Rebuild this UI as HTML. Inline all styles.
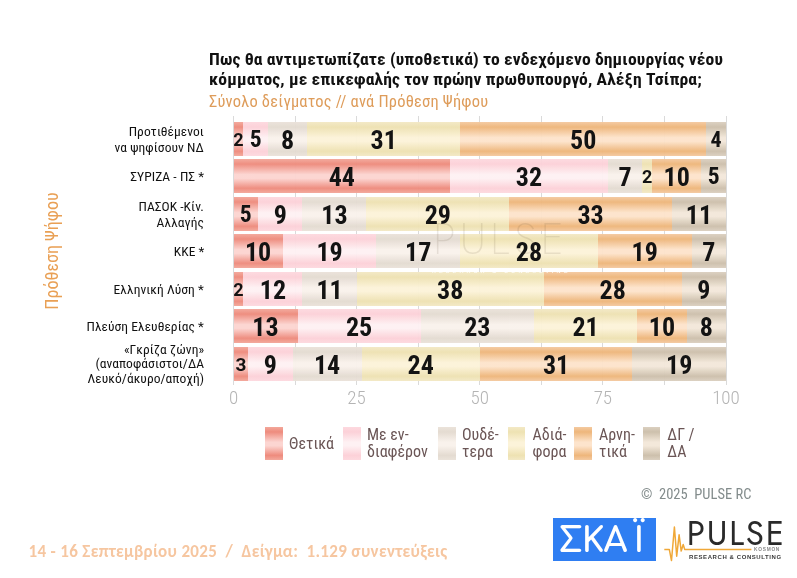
<!DOCTYPE html>
<html lang="el"><head><meta charset="utf-8">
<style>
html,body{margin:0;padding:0;background:#fff;}
body{width:797px;height:578px;position:relative;overflow:hidden;font-family:"Roboto Condensed","Liberation Sans",sans-serif;}
.t1{position:absolute;left:209px;top:50px;font-weight:700;font-size:16.6px;line-height:20px;letter-spacing:0.1px;transform:scaleX(1.06);transform-origin:0 0;color:#111;white-space:nowrap;}
.sub{position:absolute;left:209px;top:92.7px;font-weight:400;font-size:15.6px;letter-spacing:0.2px;color:#de9c5a;transform:scaleX(1.055);transform-origin:0 0;white-space:nowrap;}
.ylab{position:absolute;left:50.6px;top:251px;transform:translate(-50%,-50%) rotate(-90deg);font-size:18px;font-weight:400;letter-spacing:0px;color:#e9a055;white-space:nowrap;}
.grid{position:absolute;top:116px;height:269px;width:1px;background:#dadada;}
.seg{position:absolute;display:flex;align-items:center;justify-content:center;opacity:0.97;}
.seg span{font-weight:700;color:#0c0c0c;line-height:1;position:relative;top:0.8px;}
.rlab{position:absolute;right:593px;text-align:right;font-size:13px;font-weight:400;letter-spacing:0.05px;color:#111;transform:scaleX(1.04);transform-origin:100% 0;white-space:nowrap;}
.tick{position:absolute;top:386px;width:60px;text-align:center;font-size:19px;font-weight:300;color:#b4b4b4;}
.sw{position:absolute;top:427px;width:17.5px;height:32.7px;}
.lt{position:absolute;top:425.5px;font-family:"Roboto Condensed","Liberation Sans",sans-serif;font-size:16px;line-height:17.6px;color:#6a5555;white-space:nowrap;}
.lt.single{top:435px;}
.copy{position:absolute;left:641px;top:485.5px;font-size:14.5px;color:#838c8c;white-space:nowrap;}
.foot{position:absolute;left:28.5px;top:540.5px;font-family:"Carlito","Liberation Sans",sans-serif;font-weight:700;font-size:17px;letter-spacing:0.33px;color:#f6c6a0;white-space:pre;}
.skai{position:absolute;left:553.3px;top:517.8px;width:103.1px;height:43.7px;background:#2f7ef2;}
.skai > span{position:absolute;left:5px;top:2.5px;color:#fff;font-family:"Comfortaa","DejaVu Sans",sans-serif;font-size:34px;line-height:43.7px;letter-spacing:1.6px;font-weight:700;white-space:nowrap;}
.pulse{position:absolute;left:686.8px;top:510px;font-family:"Jost","DejaVu Sans",sans-serif;font-size:33px;font-weight:400;letter-spacing:1.8px;color:#2a2a2a;white-space:nowrap;}
.rc{position:absolute;left:689px;top:554px;font-family:"Liberation Sans",sans-serif;font-size:6px;font-weight:700;letter-spacing:0.58px;color:#3a3a3a;white-space:nowrap;}
.kos{position:absolute;left:754px;top:546.5px;font-family:"Liberation Sans",sans-serif;font-size:4.8px;font-weight:700;letter-spacing:0.75px;color:#8a8a8a;white-space:nowrap;line-height:5px;}
.wm2{position:absolute;left:432px;top:267.5px;font-family:"Liberation Sans",sans-serif;font-size:5.5px;font-weight:700;letter-spacing:3.1px;color:rgba(255,255,255,0.8);white-space:nowrap;}
.wm{position:absolute;left:433px;top:206px;font-family:"Jost","Liberation Sans",sans-serif;font-size:45px;font-weight:200;letter-spacing:4px;color:rgba(90,70,50,0.12);white-space:nowrap;}
</style></head><body>
<div class="t1">Πως θα αντιμετωπίζατε (υποθετικά) το ενδεχόμενο δημιουργίας νέου<br>κόμματος, με επικεφαλής τον πρώην πρωθυπουργό, Αλέξη Τσίπρα;</div>
<div class="sub">Σύνολο δείγματος // ανά Πρόθεση Ψήφου</div>
<div class="ylab">Πρόθεση Ψήφου</div>
<div class="grid" style="left:233.00px"></div>
<div class="grid" style="left:294.56px"></div>
<div class="grid" style="left:356.12px"></div>
<div class="grid" style="left:417.69px"></div>
<div class="grid" style="left:479.25px"></div>
<div class="grid" style="left:540.81px"></div>
<div class="grid" style="left:602.38px"></div>
<div class="grid" style="left:663.94px"></div>
<div class="grid" style="left:725.50px"></div>
<div class="seg" style="left:233.50px;top:121.90px;width:9.85px;height:33.7px;background:linear-gradient(to bottom,#f3a89b 0%,#ee8b7d 15%,#fcd5d1 46%,#fcd5d1 57%,#ee8b7d 86%,#f3a89b 100%)"><span style="font-size:18px;font-family:Roboto,Liberation Sans,sans-serif">2</span></div>
<div class="seg" style="left:243.35px;top:121.90px;width:24.63px;height:33.7px;background:linear-gradient(to bottom,#fdd9df 0%,#fcd1d8 15%,#fef1f3 46%,#fef1f3 57%,#fcd1d8 86%,#fdd9df 100%)"><span style="font-size:23.5px">5</span></div>
<div class="seg" style="left:267.98px;top:121.90px;width:39.40px;height:33.7px;background:linear-gradient(to bottom,#ebe3da 0%,#e4dbd1 15%,#f9f2ec 46%,#f9f2ec 57%,#e4dbd1 86%,#ebe3da 100%)"><span style="font-size:26px">8</span></div>
<div class="seg" style="left:307.38px;top:121.90px;width:152.68px;height:33.7px;background:linear-gradient(to bottom,#f3e9c6 0%,#eee2b2 15%,#fcf3d9 46%,#fcf3d9 57%,#eee2b2 86%,#f3e9c6 100%)"><span style="font-size:26px">31</span></div>
<div class="seg" style="left:460.05px;top:121.90px;width:246.25px;height:33.7px;background:linear-gradient(to bottom,#f4caa1 0%,#eeb67b 15%,#fde4cc 46%,#fde4cc 57%,#eeb67b 86%,#f4caa1 100%)"><span style="font-size:26px">50</span></div>
<div class="seg" style="left:706.30px;top:121.90px;width:19.70px;height:33.7px;background:linear-gradient(to bottom,#dbd0c0 0%,#cdc0ac 15%,#f3e8da 46%,#f3e8da 57%,#cdc0ac 86%,#dbd0c0 100%)"><span style="font-size:22px">4</span></div>
<div class="rlab" style="top:124.05px;line-height:15.7px">Προτιθέμενοι<br>να ψηφίσουν ΝΔ</div>
<div class="seg" style="left:233.50px;top:159.40px;width:216.70px;height:33.7px;background:linear-gradient(to bottom,#f3a89b 0%,#ee8b7d 15%,#fcd5d1 46%,#fcd5d1 57%,#ee8b7d 86%,#f3a89b 100%)"><span style="font-size:26px">44</span></div>
<div class="seg" style="left:450.20px;top:159.40px;width:157.60px;height:33.7px;background:linear-gradient(to bottom,#fdd9df 0%,#fcd1d8 15%,#fef1f3 46%,#fef1f3 57%,#fcd1d8 86%,#fdd9df 100%)"><span style="font-size:26px">32</span></div>
<div class="seg" style="left:607.80px;top:159.40px;width:34.48px;height:33.7px;background:linear-gradient(to bottom,#ebe3da 0%,#e4dbd1 15%,#f9f2ec 46%,#f9f2ec 57%,#e4dbd1 86%,#ebe3da 100%)"><span style="font-size:26px">7</span></div>
<div class="seg" style="left:642.27px;top:159.40px;width:9.85px;height:33.7px;background:linear-gradient(to bottom,#f3e9c6 0%,#eee2b2 15%,#fcf3d9 46%,#fcf3d9 57%,#eee2b2 86%,#f3e9c6 100%)"><span style="font-size:18px;font-family:Roboto,Liberation Sans,sans-serif">2</span></div>
<div class="seg" style="left:652.12px;top:159.40px;width:49.25px;height:33.7px;background:linear-gradient(to bottom,#f4caa1 0%,#eeb67b 15%,#fde4cc 46%,#fde4cc 57%,#eeb67b 86%,#f4caa1 100%)"><span style="font-size:26px">10</span></div>
<div class="seg" style="left:701.38px;top:159.40px;width:24.62px;height:33.7px;background:linear-gradient(to bottom,#dbd0c0 0%,#cdc0ac 15%,#f3e8da 46%,#f3e8da 57%,#cdc0ac 86%,#dbd0c0 100%)"><span style="font-size:23.5px">5</span></div>
<div class="rlab" style="top:169.40px;line-height:15.7px">ΣΥΡΙΖΑ - ΠΣ *</div>
<div class="seg" style="left:233.50px;top:196.90px;width:24.62px;height:33.7px;background:linear-gradient(to bottom,#f3a89b 0%,#ee8b7d 15%,#fcd5d1 46%,#fcd5d1 57%,#ee8b7d 86%,#f3a89b 100%)"><span style="font-size:23.5px">5</span></div>
<div class="seg" style="left:258.12px;top:196.90px;width:44.32px;height:33.7px;background:linear-gradient(to bottom,#fdd9df 0%,#fcd1d8 15%,#fef1f3 46%,#fef1f3 57%,#fcd1d8 86%,#fdd9df 100%)"><span style="font-size:26px">9</span></div>
<div class="seg" style="left:302.45px;top:196.90px;width:64.03px;height:33.7px;background:linear-gradient(to bottom,#ebe3da 0%,#e4dbd1 15%,#f9f2ec 46%,#f9f2ec 57%,#e4dbd1 86%,#ebe3da 100%)"><span style="font-size:26px">13</span></div>
<div class="seg" style="left:366.48px;top:196.90px;width:142.82px;height:33.7px;background:linear-gradient(to bottom,#f3e9c6 0%,#eee2b2 15%,#fcf3d9 46%,#fcf3d9 57%,#eee2b2 86%,#f3e9c6 100%)"><span style="font-size:26px">29</span></div>
<div class="seg" style="left:509.30px;top:196.90px;width:162.53px;height:33.7px;background:linear-gradient(to bottom,#f4caa1 0%,#eeb67b 15%,#fde4cc 46%,#fde4cc 57%,#eeb67b 86%,#f4caa1 100%)"><span style="font-size:26px">33</span></div>
<div class="seg" style="left:671.83px;top:196.90px;width:54.17px;height:33.7px;background:linear-gradient(to bottom,#dbd0c0 0%,#cdc0ac 15%,#f3e8da 46%,#f3e8da 57%,#cdc0ac 86%,#dbd0c0 100%)"><span style="font-size:26px">11</span></div>
<div class="rlab" style="top:199.05px;line-height:15.7px">ΠΑΣΟΚ -Κίν.<br>Αλλαγής</div>
<div class="seg" style="left:233.50px;top:234.40px;width:49.25px;height:33.7px;background:linear-gradient(to bottom,#f3a89b 0%,#ee8b7d 15%,#fcd5d1 46%,#fcd5d1 57%,#ee8b7d 86%,#f3a89b 100%)"><span style="font-size:26px">10</span></div>
<div class="seg" style="left:282.75px;top:234.40px;width:93.57px;height:33.7px;background:linear-gradient(to bottom,#fdd9df 0%,#fcd1d8 15%,#fef1f3 46%,#fef1f3 57%,#fcd1d8 86%,#fdd9df 100%)"><span style="font-size:26px">19</span></div>
<div class="seg" style="left:376.32px;top:234.40px;width:83.73px;height:33.7px;background:linear-gradient(to bottom,#ebe3da 0%,#e4dbd1 15%,#f9f2ec 46%,#f9f2ec 57%,#e4dbd1 86%,#ebe3da 100%)"><span style="font-size:26px">17</span></div>
<div class="seg" style="left:460.05px;top:234.40px;width:137.90px;height:33.7px;background:linear-gradient(to bottom,#f3e9c6 0%,#eee2b2 15%,#fcf3d9 46%,#fcf3d9 57%,#eee2b2 86%,#f3e9c6 100%)"><span style="font-size:26px">28</span></div>
<div class="seg" style="left:597.95px;top:234.40px;width:93.57px;height:33.7px;background:linear-gradient(to bottom,#f4caa1 0%,#eeb67b 15%,#fde4cc 46%,#fde4cc 57%,#eeb67b 86%,#f4caa1 100%)"><span style="font-size:26px">19</span></div>
<div class="seg" style="left:691.52px;top:234.40px;width:34.48px;height:33.7px;background:linear-gradient(to bottom,#dbd0c0 0%,#cdc0ac 15%,#f3e8da 46%,#f3e8da 57%,#cdc0ac 86%,#dbd0c0 100%)"><span style="font-size:26px">7</span></div>
<div class="rlab" style="top:244.40px;line-height:15.7px">ΚΚΕ *</div>
<div class="seg" style="left:233.50px;top:271.90px;width:9.85px;height:33.7px;background:linear-gradient(to bottom,#f3a89b 0%,#ee8b7d 15%,#fcd5d1 46%,#fcd5d1 57%,#ee8b7d 86%,#f3a89b 100%)"><span style="font-size:18px;font-family:Roboto,Liberation Sans,sans-serif">2</span></div>
<div class="seg" style="left:243.35px;top:271.90px;width:59.10px;height:33.7px;background:linear-gradient(to bottom,#fdd9df 0%,#fcd1d8 15%,#fef1f3 46%,#fef1f3 57%,#fcd1d8 86%,#fdd9df 100%)"><span style="font-size:26px">12</span></div>
<div class="seg" style="left:302.45px;top:271.90px;width:54.18px;height:33.7px;background:linear-gradient(to bottom,#ebe3da 0%,#e4dbd1 15%,#f9f2ec 46%,#f9f2ec 57%,#e4dbd1 86%,#ebe3da 100%)"><span style="font-size:26px">11</span></div>
<div class="seg" style="left:356.62px;top:271.90px;width:187.15px;height:33.7px;background:linear-gradient(to bottom,#f3e9c6 0%,#eee2b2 15%,#fcf3d9 46%,#fcf3d9 57%,#eee2b2 86%,#f3e9c6 100%)"><span style="font-size:26px">38</span></div>
<div class="seg" style="left:543.77px;top:271.90px;width:137.90px;height:33.7px;background:linear-gradient(to bottom,#f4caa1 0%,#eeb67b 15%,#fde4cc 46%,#fde4cc 57%,#eeb67b 86%,#f4caa1 100%)"><span style="font-size:26px">28</span></div>
<div class="seg" style="left:681.67px;top:271.90px;width:44.33px;height:33.7px;background:linear-gradient(to bottom,#dbd0c0 0%,#cdc0ac 15%,#f3e8da 46%,#f3e8da 57%,#cdc0ac 86%,#dbd0c0 100%)"><span style="font-size:26px">9</span></div>
<div class="rlab" style="top:281.90px;line-height:15.7px">Ελληνική Λύση *</div>
<div class="seg" style="left:233.50px;top:309.40px;width:64.02px;height:33.7px;background:linear-gradient(to bottom,#f3a89b 0%,#ee8b7d 15%,#fcd5d1 46%,#fcd5d1 57%,#ee8b7d 86%,#f3a89b 100%)"><span style="font-size:26px">13</span></div>
<div class="seg" style="left:297.52px;top:309.40px;width:123.12px;height:33.7px;background:linear-gradient(to bottom,#fdd9df 0%,#fcd1d8 15%,#fef1f3 46%,#fef1f3 57%,#fcd1d8 86%,#fdd9df 100%)"><span style="font-size:26px">25</span></div>
<div class="seg" style="left:420.65px;top:309.40px;width:113.27px;height:33.7px;background:linear-gradient(to bottom,#ebe3da 0%,#e4dbd1 15%,#f9f2ec 46%,#f9f2ec 57%,#e4dbd1 86%,#ebe3da 100%)"><span style="font-size:26px">23</span></div>
<div class="seg" style="left:533.92px;top:309.40px;width:103.43px;height:33.7px;background:linear-gradient(to bottom,#f3e9c6 0%,#eee2b2 15%,#fcf3d9 46%,#fcf3d9 57%,#eee2b2 86%,#f3e9c6 100%)"><span style="font-size:26px">21</span></div>
<div class="seg" style="left:637.35px;top:309.40px;width:49.25px;height:33.7px;background:linear-gradient(to bottom,#f4caa1 0%,#eeb67b 15%,#fde4cc 46%,#fde4cc 57%,#eeb67b 86%,#f4caa1 100%)"><span style="font-size:26px">10</span></div>
<div class="seg" style="left:686.60px;top:309.40px;width:39.40px;height:33.7px;background:linear-gradient(to bottom,#dbd0c0 0%,#cdc0ac 15%,#f3e8da 46%,#f3e8da 57%,#cdc0ac 86%,#dbd0c0 100%)"><span style="font-size:26px">8</span></div>
<div class="rlab" style="top:319.40px;line-height:15.7px">Πλεύση Ελευθερίας *</div>
<div class="seg" style="left:233.50px;top:346.90px;width:14.78px;height:33.7px;background:linear-gradient(to bottom,#f3a89b 0%,#ee8b7d 15%,#fcd5d1 46%,#fcd5d1 57%,#ee8b7d 86%,#f3a89b 100%)"><span style="font-size:19px;font-family:Roboto,Liberation Sans,sans-serif">3</span></div>
<div class="seg" style="left:248.28px;top:346.90px;width:44.33px;height:33.7px;background:linear-gradient(to bottom,#fdd9df 0%,#fcd1d8 15%,#fef1f3 46%,#fef1f3 57%,#fcd1d8 86%,#fdd9df 100%)"><span style="font-size:26px">9</span></div>
<div class="seg" style="left:292.60px;top:346.90px;width:68.95px;height:33.7px;background:linear-gradient(to bottom,#ebe3da 0%,#e4dbd1 15%,#f9f2ec 46%,#f9f2ec 57%,#e4dbd1 86%,#ebe3da 100%)"><span style="font-size:26px">14</span></div>
<div class="seg" style="left:361.55px;top:346.90px;width:118.20px;height:33.7px;background:linear-gradient(to bottom,#f3e9c6 0%,#eee2b2 15%,#fcf3d9 46%,#fcf3d9 57%,#eee2b2 86%,#f3e9c6 100%)"><span style="font-size:26px">24</span></div>
<div class="seg" style="left:479.75px;top:346.90px;width:152.67px;height:33.7px;background:linear-gradient(to bottom,#f4caa1 0%,#eeb67b 15%,#fde4cc 46%,#fde4cc 57%,#eeb67b 86%,#f4caa1 100%)"><span style="font-size:26px">31</span></div>
<div class="seg" style="left:632.42px;top:346.90px;width:93.58px;height:33.7px;background:linear-gradient(to bottom,#dbd0c0 0%,#cdc0ac 15%,#f3e8da 46%,#f3e8da 57%,#cdc0ac 86%,#dbd0c0 100%)"><span style="font-size:26px">19</span></div>
<div class="rlab" style="top:342.85px;line-height:14.6px">«Γκρίζα ζώνη»<br>(αναποφάσιστοι/ΔΑ<br>Λευκό/άκυρο/αποχή)</div>
<div class="tick" style="left:203.50px">0</div>
<div class="tick" style="left:326.62px">25</div>
<div class="tick" style="left:449.75px">50</div>
<div class="tick" style="left:572.88px">75</div>
<div class="tick" style="left:696.00px">100</div>
<div class="sw" style="left:265px;background:linear-gradient(to bottom,#f3a89b 0%,#ee8b7d 15%,#fcd5d1 46%,#fcd5d1 57%,#ee8b7d 86%,#f3a89b 100%)"></div>
<div class="lt single" style="left:289px">Θετικά</div>
<div class="sw" style="left:343px;background:linear-gradient(to bottom,#fdd9df 0%,#fcd1d8 15%,#fef1f3 46%,#fef1f3 57%,#fcd1d8 86%,#fdd9df 100%)"></div>
<div class="lt" style="left:367px">Με εν-<br>διαφέρον</div>
<div class="sw" style="left:438px;background:linear-gradient(to bottom,#ebe3da 0%,#e4dbd1 15%,#f9f2ec 46%,#f9f2ec 57%,#e4dbd1 86%,#ebe3da 100%)"></div>
<div class="lt" style="left:462px">Ουδέ-<br>τερα</div>
<div class="sw" style="left:507.6px;background:linear-gradient(to bottom,#f3e9c6 0%,#eee2b2 15%,#fcf3d9 46%,#fcf3d9 57%,#eee2b2 86%,#f3e9c6 100%)"></div>
<div class="lt" style="left:532.6px">Αδιά-<br>φορα</div>
<div class="sw" style="left:574px;background:linear-gradient(to bottom,#f4caa1 0%,#eeb67b 15%,#fde4cc 46%,#fde4cc 57%,#eeb67b 86%,#f4caa1 100%)"></div>
<div class="lt" style="left:599px">Αρνη-<br>τικά</div>
<div class="sw" style="left:642.6px;background:linear-gradient(to bottom,#dbd0c0 0%,#cdc0ac 15%,#f3e8da 46%,#f3e8da 57%,#cdc0ac 86%,#dbd0c0 100%)"></div>
<div class="lt" style="left:667.3px">ΔΓ /<br>ΔΑ</div>
<div class="wm">PULSE</div>
<div class="wm2">RESEARCH &amp; CONSULTING</div>
<div class="copy">©&nbsp; 2025&nbsp; PULSE RC</div>
<div class="foot">14 - 16 Σεπτεμβρίου 2025  /  Δείγμα:  1.129 συνεντεύξεις</div>
<div class="skai"><span><span style="letter-spacing:-1.2px">Σ</span><span style="letter-spacing:-0.8px">Κ</span><span style="letter-spacing:6.2px">Α</span>Ϊ</span></div>
<svg style="position:absolute;left:660px;top:520px" width="100" height="45" viewBox="660 520 100 45"><polyline points="664.3,549.4 669.3,549.4 671.5,560.5 674.4,527 676.7,556.2 679.1,534.8 681.2,551.1 683.2,544.5 684.7,549.4 751.4,549.4" fill="none" stroke="#f0a838" stroke-width="1.5" stroke-linejoin="round"/></svg>
<div class="pulse">PULSE</div>
<div class="rc">RESEARCH &amp; CONSULTING</div>
<div class="kos">KOSMON</div>
</body></html>
